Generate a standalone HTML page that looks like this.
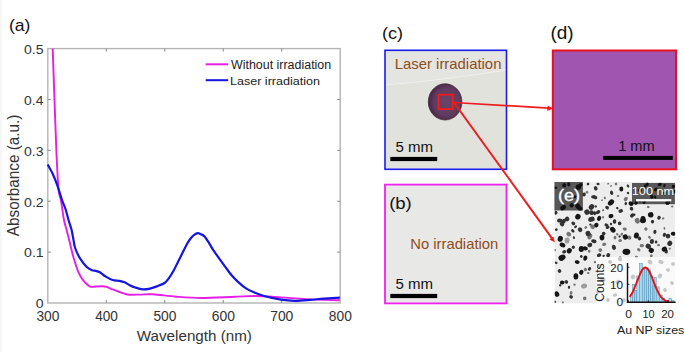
<!DOCTYPE html>
<html><head><meta charset="utf-8"><style>
html,body{margin:0;padding:0;background:#fff;width:685px;height:352px;overflow:hidden}
svg{display:block;font-family:"Liberation Sans",sans-serif}
</style></head><body>
<svg width="685" height="352" viewBox="0 0 685 352" font-family="Liberation Sans, sans-serif">
<defs><clipPath id="temclip"><rect x="554.6" y="182" width="120.6" height="121.6"/></clipPath>
<radialGradient id="spotg" cx="0.55" cy="0.5" r="0.55"><stop offset="0" stop-color="#6a4469"/><stop offset="0.7" stop-color="#603b60"/><stop offset="1" stop-color="#44253f"/></radialGradient>
<filter id="soft" x="0" y="0" width="1" height="1"><feGaussianBlur stdDeviation="0.7"/></filter></defs>
<rect x="0.5" y="0" width="1" height="352" fill="#efefef"/>
<rect x="47.80" y="48.60" width="292.40" height="254.40" fill="none" stroke="#b4b4b4" stroke-width="1.4"/>
<path d="M106.28,303.00v-3M106.28,48.60v3M164.76,303.00v-3M164.76,48.60v3M223.24,303.00v-3M223.24,48.60v3M281.72,303.00v-3M281.72,48.60v3M47.80,252.12h3M340.20,252.12h-3M47.80,201.24h3M340.20,201.24h-3M47.80,150.36h3M340.20,150.36h-3M47.80,99.48h3M340.20,99.48h-3" stroke="#8a8a8a" stroke-width="1"/>
<path d="M52.70,48.50 C53.12,60.42 54.52,101.42 55.20,120.00 C55.88,138.58 56.23,148.33 56.80,160.00 C57.37,171.67 57.92,183.33 58.60,190.00 C59.28,196.67 60.00,195.00 60.90,200.00 C61.80,205.00 63.05,215.00 64.00,220.00 C64.95,225.00 65.60,226.10 66.60,230.00 C67.60,233.90 68.87,238.90 70.00,243.40 C71.13,247.90 71.98,252.17 73.40,257.00 C74.82,261.83 76.80,268.42 78.50,272.40 C80.20,276.38 81.90,278.68 83.60,280.90 C85.30,283.12 87.38,284.70 88.70,285.70 C90.02,286.70 90.35,286.77 91.50,286.90 C92.65,287.03 93.78,286.62 95.60,286.50 C97.42,286.38 100.57,286.13 102.40,286.20 C104.23,286.27 104.90,286.37 106.60,286.90 C108.30,287.43 110.47,288.55 112.60,289.40 C114.73,290.25 117.42,291.28 119.40,292.00 C121.38,292.72 122.78,293.25 124.50,293.70 C126.22,294.15 127.12,294.55 129.70,294.70 C132.28,294.85 136.10,294.67 140.00,294.60 C143.90,294.53 147.07,293.95 153.10,294.30 C159.13,294.65 168.10,296.08 176.20,296.70 C184.30,297.32 191.90,298.00 201.70,298.00 C211.50,298.00 226.02,297.03 235.00,296.70 C243.98,296.37 247.92,295.88 255.60,296.00 C263.28,296.12 272.58,296.88 281.10,297.40 C289.62,297.92 296.90,298.62 306.70,299.10 C316.50,299.58 334.37,300.10 339.90,300.30" fill="none" stroke="#e61ee6" stroke-width="1.9" stroke-linejoin="round"/>
<path d="M47.70,164.50 C48.58,166.17 51.37,170.93 53.00,174.50 C54.63,178.07 56.00,181.65 57.50,185.90 C59.00,190.15 60.67,196.15 62.00,200.00 C63.33,203.85 64.42,205.67 65.50,209.00 C66.58,212.33 67.50,216.58 68.50,220.00 C69.50,223.42 70.67,226.17 71.50,229.50 C72.33,232.83 72.87,236.83 73.50,240.00 C74.13,243.17 74.18,245.38 75.30,248.50 C76.42,251.62 78.25,255.57 80.20,258.70 C82.15,261.83 85.00,265.37 87.00,267.30 C89.00,269.23 90.77,269.70 92.20,270.30 C93.63,270.90 94.33,270.57 95.60,270.90 C96.87,271.23 98.10,271.35 99.80,272.30 C101.50,273.25 103.67,275.32 105.80,276.60 C107.93,277.88 110.33,279.28 112.60,280.00 C114.87,280.72 117.42,280.52 119.40,280.90 C121.38,281.28 122.78,281.58 124.50,282.30 C126.22,283.02 127.92,284.33 129.70,285.20 C131.48,286.07 133.00,286.80 135.20,287.50 C137.40,288.20 140.43,289.22 142.90,289.40 C145.37,289.58 147.55,289.15 150.00,288.60 C152.45,288.05 155.17,287.03 157.60,286.10 C160.03,285.17 162.68,284.37 164.60,283.00 C166.52,281.63 167.58,279.98 169.10,277.90 C170.62,275.82 172.18,273.25 173.70,270.50 C175.22,267.75 176.68,264.43 178.20,261.40 C179.72,258.37 181.27,255.32 182.80,252.30 C184.33,249.28 186.07,245.65 187.40,243.30 C188.73,240.95 189.67,239.62 190.80,238.20 C191.93,236.78 193.03,235.63 194.20,234.80 C195.37,233.97 196.67,233.28 197.80,233.20 C198.93,233.12 199.92,233.78 201.00,234.30 C202.08,234.82 203.05,234.98 204.30,236.30 C205.55,237.62 207.08,240.02 208.50,242.20 C209.92,244.38 211.38,247.20 212.80,249.40 C214.22,251.60 215.65,253.48 217.00,255.40 C218.35,257.32 219.45,258.90 220.90,260.90 C222.35,262.90 223.92,265.00 225.70,267.40 C227.48,269.80 229.55,272.88 231.60,275.30 C233.65,277.72 235.65,279.75 238.00,281.90 C240.35,284.05 243.13,286.50 245.70,288.20 C248.27,289.90 250.18,290.77 253.40,292.10 C256.62,293.43 260.38,294.93 265.00,296.20 C269.62,297.47 276.15,298.93 281.10,299.70 C286.05,300.47 289.88,300.77 294.70,300.80 C299.52,300.83 305.17,300.27 310.00,299.90 C314.83,299.53 318.72,298.97 323.70,298.60 C328.68,298.23 337.20,297.85 339.90,297.70" fill="none" stroke="#1515e0" stroke-width="2.2" stroke-linejoin="round"/>
<text transform="translate(36.48,321.46) scale(0.9539,1)" font-size="14.42" fill="#333">300</text>
<text transform="translate(95.17,321.46) scale(0.9450,1)" font-size="14.42" fill="#333">400</text>
<text transform="translate(153.41,321.46) scale(0.9554,1)" font-size="14.42" fill="#333">500</text>
<text transform="translate(211.75,321.46) scale(0.9614,1)" font-size="14.42" fill="#333">600</text>
<text transform="translate(270.19,321.46) scale(0.9629,1)" font-size="14.42" fill="#333">700</text>
<text transform="translate(328.81,321.46) scale(0.9569,1)" font-size="14.42" fill="#333">800</text>
<text transform="translate(35.74,308.26) scale(1.0341,1)" font-size="13.57" fill="#333">0</text>
<text transform="translate(24.03,257.38) scale(1.0411,1)" font-size="13.57" fill="#333">0.1</text>
<text transform="translate(24.03,206.50) scale(1.0431,1)" font-size="13.57" fill="#333">0.2</text>
<text transform="translate(24.04,155.62) scale(1.0371,1)" font-size="13.57" fill="#333">0.3</text>
<text transform="translate(24.04,104.74) scale(1.0254,1)" font-size="13.57" fill="#333">0.4</text>
<text transform="translate(24.04,53.86) scale(1.0351,1)" font-size="13.57" fill="#333">0.5</text>
<text transform="translate(136.82,340.54) scale(1.0662,1)" font-size="14.26" fill="#333">Wavelength (nm)</text>
<text transform="translate(18.61,236.14) rotate(-90) scale(0.9632,1)" font-size="15.87" fill="#333">Absorbance (a.u.)</text>
<path d="M205.7,64.3H228.2" stroke="#e61ee6" stroke-width="2"/>
<path d="M205.7,80.2H228.2" stroke="#1515e0" stroke-width="2"/>
<text transform="translate(230.94,69.17) scale(0.9952,1)" font-size="12.52" fill="#222">Without irradiation</text>
<text transform="translate(229.96,84.98) scale(1.0746,1)" font-size="11.70" fill="#222">Laser irradiation</text>
<text transform="translate(9.00,30.74) scale(1.0249,1)" font-size="17.16" fill="#111">(a)</text>
<text transform="translate(381.97,38.90) scale(1.0405,1)" font-size="17.37" fill="#111">(c)</text>
<text transform="translate(550.52,39.06) scale(1.0520,1)" font-size="18.02" fill="#111">(d)</text>
<rect x="385" y="50.3" width="121.5" height="119" fill="#e2e2dd"/>
<path d="M385,85 C420,82 470,76 506,70 L506,51 L385,51 Z" fill="#e4e4e0"/>
<path d="M385,85 C420,82 470,76 506,70" fill="none" stroke="#efefeb" stroke-width="1.1"/>
<ellipse cx="445.1" cy="101.9" rx="16.8" ry="18.1" fill="url(#spotg)" stroke="#48283f" stroke-width="0.8"/>
<rect x="385" y="50.3" width="121.5" height="119" fill="none" stroke="#1c1cf0" stroke-width="1.6"/>
<text transform="translate(394.77,68.86) scale(1.0629,1)" font-size="14.01" fill="#8f4d20">Laser irradiation</text>
<text transform="translate(395.50,152.35) scale(1.0307,1)" font-size="14.62" fill="#111">5 mm</text>
<rect x="390.3" y="156.9" width="46.9" height="4.2" fill="#000"/>
<rect x="385" y="184.6" width="121.5" height="118.8" fill="#e8e9e6" stroke="#f020f0" stroke-width="1.8"/>
<text transform="translate(389.14,209.24) scale(1.0780,1)" font-size="17.16" fill="#111">(b)</text>
<text transform="translate(410.18,249.06) scale(1.0790,1)" font-size="13.74" fill="#8f4d20">No irradiation</text>
<text transform="translate(395.50,289.35) scale(1.0307,1)" font-size="14.62" fill="#111">5 mm</text>
<rect x="390.3" y="293.9" width="46.9" height="4.2" fill="#000"/>
<rect x="552.8" y="50.5" width="123.2" height="118.8" fill="#a056b0" stroke="#e81020" stroke-width="2"/>
<text transform="translate(618.21,150.50) scale(1.0021,1)" font-size="14.55" fill="#111">1 mm</text>
<rect x="603.2" y="155.9" width="69.6" height="4" fill="#000"/>
<g clip-path="url(#temclip)" filter="url(#soft)"><rect x="554.6" y="182" width="120.6" height="121.6" fill="#ededed"/><g fill="#9e9e9e"><ellipse rx="2.5" ry="3.1" transform="translate(567.1 240.5)rotate(6)"/><ellipse rx="3.1" ry="2.4" transform="translate(584.1 286.0)rotate(162)"/></g><g fill="#747474"><ellipse rx="1.4" ry="1.3" transform="translate(587.0 192.2)rotate(11)"/><ellipse rx="1.1" ry="0.8" transform="translate(608.2 183.7)rotate(153)"/><ellipse rx="0.8" ry="1.1" transform="translate(611.0 186.0)rotate(38)"/><ellipse rx="1.3" ry="1.1" transform="translate(604.8 197.9)rotate(49)"/><ellipse rx="0.8" ry="1.0" transform="translate(602.0 200.2)rotate(60)"/><ellipse rx="1.8" ry="2.3" transform="translate(625.8 199.0)rotate(44)"/><ellipse rx="1.0" ry="1.2" transform="translate(603.1 210.2)rotate(49)"/><ellipse rx="1.0" ry="1.3" transform="translate(603.1 217.2)rotate(178)"/><ellipse rx="1.1" ry="1.4" transform="translate(648.3 207.0)rotate(105)"/><ellipse rx="1.0" ry="1.2" transform="translate(672.2 206.5)rotate(108)"/><ellipse rx="2.4" ry="2.2" transform="translate(637.0 220.2)rotate(156)"/><ellipse rx="1.4" ry="1.0" transform="translate(663.2 218.4)rotate(147)"/><ellipse rx="1.2" ry="1.6" transform="translate(585.8 227.4)rotate(48)"/><ellipse rx="2.3" ry="2.3" transform="translate(592.6 226.8)rotate(11)"/><ellipse rx="2.4" ry="2.2" transform="translate(568.8 234.2)rotate(24)"/><ellipse rx="3.0" ry="2.2" transform="translate(589.8 236.5)rotate(118)"/><ellipse rx="1.3" ry="1.4" transform="translate(554.6 250.1)rotate(123)"/><ellipse rx="1.5" ry="1.3" transform="translate(589.2 251.2)rotate(69)"/><ellipse rx="1.6" ry="2.1" transform="translate(624.7 229.1)rotate(108)"/><ellipse rx="1.5" ry="1.8" transform="translate(615.0 237.6)rotate(2)"/><ellipse rx="1.1" ry="1.3" transform="translate(617.3 234.2)rotate(122)"/><ellipse rx="1.6" ry="1.2" transform="translate(621.8 234.2)rotate(119)"/><ellipse rx="2.0" ry="2.2" transform="translate(629.2 237.6)rotate(120)"/><ellipse rx="1.5" ry="1.8" transform="translate(620.1 240.5)rotate(78)"/><ellipse rx="2.1" ry="1.6" transform="translate(604.2 244.4)rotate(165)"/><ellipse rx="1.9" ry="1.8" transform="translate(600.3 250.1)rotate(57)"/><ellipse rx="2.3" ry="2.3" transform="translate(637.6 221.2)rotate(50)"/><ellipse rx="1.6" ry="1.7" transform="translate(645.9 229.0)rotate(151)"/><ellipse rx="1.3" ry="0.9" transform="translate(664.4 228.4)rotate(81)"/><ellipse rx="1.6" ry="1.2" transform="translate(649.5 237.3)rotate(43)"/><ellipse rx="2.1" ry="1.6" transform="translate(641.8 245.7)rotate(173)"/><ellipse rx="1.2" ry="1.6" transform="translate(658.5 245.1)rotate(85)"/><ellipse rx="1.8" ry="1.5" transform="translate(638.8 249.8)rotate(32)"/><ellipse rx="1.2" ry="1.0" transform="translate(669.8 248.6)rotate(136)"/><ellipse rx="1.4" ry="1.4" transform="translate(651.3 255.8)rotate(143)"/><ellipse rx="1.6" ry="1.2" transform="translate(636.4 257.0)rotate(16)"/><ellipse rx="1.3" ry="1.4" transform="translate(616.0 184.0)rotate(164)"/><ellipse rx="1.0" ry="1.3" transform="translate(618.0 196.0)rotate(79)"/><ellipse rx="1.7" ry="1.6" transform="translate(585.4 269.6)rotate(130)"/><ellipse rx="1.4" ry="1.0" transform="translate(588.2 273.0)rotate(15)"/><ellipse rx="1.1" ry="1.2" transform="translate(574.5 284.6)rotate(69)"/><ellipse rx="1.9" ry="1.4" transform="translate(571.1 292.8)rotate(94)"/><ellipse rx="1.9" ry="1.8" transform="translate(584.7 298.3)rotate(91)"/><ellipse rx="1.3" ry="0.9" transform="translate(562.9 302.5)rotate(93)"/><ellipse rx="1.2" ry="1.2" transform="translate(595.0 262.1)rotate(144)"/></g><g fill="#303030"><ellipse rx="2.1" ry="2.1" transform="translate(564.2 185.4)rotate(101)"/><ellipse rx="2.1" ry="1.6" transform="translate(568.8 184.3)rotate(84)"/><ellipse rx="2.8" ry="2.7" transform="translate(578.4 187.1)rotate(106)"/><ellipse rx="1.7" ry="2.0" transform="translate(580.7 184.8)rotate(92)"/><ellipse rx="2.2" ry="2.0" transform="translate(571.6 205.3)rotate(143)"/><ellipse rx="2.4" ry="3.1" transform="translate(563.1 207.6)rotate(55)"/><ellipse rx="2.4" ry="3.1" transform="translate(577.9 206.4)rotate(146)"/><ellipse rx="2.5" ry="2.1" transform="translate(580.1 208.7)rotate(8)"/><ellipse rx="1.6" ry="1.2" transform="translate(555.7 187.7)rotate(174)"/><ellipse rx="1.5" ry="1.3" transform="translate(575.0 196.8)rotate(111)"/><ellipse rx="1.7" ry="2.0" transform="translate(584.1 194.5)rotate(3)"/><ellipse rx="2.5" ry="3.0" transform="translate(591.5 207.0)rotate(44)"/><ellipse rx="1.6" ry="2.1" transform="translate(593.2 196.8)rotate(84)"/><ellipse rx="2.7" ry="2.8" transform="translate(587.0 212.1)rotate(152)"/><ellipse rx="2.3" ry="2.3" transform="translate(591.5 212.7)rotate(115)"/><ellipse rx="2.3" ry="2.3" transform="translate(567.1 218.9)rotate(50)"/><ellipse rx="2.7" ry="2.0" transform="translate(559.7 220.6)rotate(179)"/><ellipse rx="2.6" ry="2.0" transform="translate(563.7 221.2)rotate(127)"/><ellipse rx="1.8" ry="1.9" transform="translate(555.7 212.7)rotate(41)"/><ellipse rx="2.2" ry="2.4" transform="translate(590.4 219.5)rotate(13)"/><ellipse rx="2.5" ry="2.1" transform="translate(592.6 218.9)rotate(72)"/><ellipse rx="2.3" ry="1.8" transform="translate(595.7 188.3)rotate(70)"/><ellipse rx="2.2" ry="1.6" transform="translate(611.6 192.8)rotate(72)"/><ellipse rx="1.8" ry="2.3" transform="translate(595.1 197.3)rotate(113)"/><ellipse rx="1.2" ry="1.6" transform="translate(625.8 203.6)rotate(11)"/><ellipse rx="1.2" ry="1.2" transform="translate(595.7 206.4)rotate(81)"/><ellipse rx="1.7" ry="2.0" transform="translate(607.1 207.6)rotate(132)"/><ellipse rx="1.1" ry="1.3" transform="translate(617.3 208.1)rotate(116)"/><ellipse rx="1.8" ry="2.3" transform="translate(620.7 211.0)rotate(76)"/><ellipse rx="2.5" ry="1.8" transform="translate(598.0 212.1)rotate(145)"/><ellipse rx="1.7" ry="1.9" transform="translate(594.6 213.2)rotate(159)"/><ellipse rx="1.9" ry="2.3" transform="translate(632.1 215.5)rotate(46)"/><ellipse rx="2.0" ry="1.7" transform="translate(631.5 208.7)rotate(59)"/><ellipse rx="1.7" ry="1.9" transform="translate(614.5 221.2)rotate(13)"/><ellipse rx="1.7" ry="2.0" transform="translate(659.0 217.8)rotate(28)"/><ellipse rx="1.3" ry="1.5" transform="translate(652.5 221.4)rotate(34)"/><ellipse rx="1.5" ry="1.3" transform="translate(634.0 214.8)rotate(169)"/><ellipse rx="1.7" ry="2.0" transform="translate(667.4 202.9)rotate(171)"/><ellipse rx="1.6" ry="1.2" transform="translate(664.4 185.6)rotate(109)"/><ellipse rx="1.8" ry="1.9" transform="translate(675.0 191.5)rotate(19)"/><ellipse rx="1.2" ry="1.6" transform="translate(645.0 186.0)rotate(173)"/><ellipse rx="1.3" ry="1.5" transform="translate(655.0 197.0)rotate(127)"/><ellipse rx="1.3" ry="1.5" transform="translate(640.0 201.0)rotate(148)"/><ellipse rx="2.4" ry="2.2" transform="translate(562.0 224.0)rotate(53)"/><ellipse rx="1.7" ry="2.0" transform="translate(573.3 223.4)rotate(130)"/><ellipse rx="1.2" ry="1.6" transform="translate(575.6 226.8)rotate(41)"/><ellipse rx="1.4" ry="1.3" transform="translate(556.3 229.7)rotate(153)"/><ellipse rx="2.4" ry="2.2" transform="translate(580.1 229.7)rotate(50)"/><ellipse rx="1.9" ry="1.4" transform="translate(572.8 230.8)rotate(37)"/><ellipse rx="1.0" ry="1.2" transform="translate(590.4 224.5)rotate(66)"/><ellipse rx="2.5" ry="2.7" transform="translate(588.1 233.6)rotate(160)"/><ellipse rx="1.0" ry="1.4" transform="translate(573.9 237.6)rotate(164)"/><ellipse rx="2.0" ry="1.7" transform="translate(593.2 241.0)rotate(173)"/><ellipse rx="1.7" ry="1.6" transform="translate(573.3 247.3)rotate(131)"/><ellipse rx="2.5" ry="2.1" transform="translate(589.8 245.0)rotate(162)"/><ellipse rx="2.0" ry="1.7" transform="translate(564.2 251.8)rotate(165)"/><ellipse rx="1.4" ry="1.4" transform="translate(581.3 256.4)rotate(142)"/><ellipse rx="1.6" ry="2.1" transform="translate(606.5 225.1)rotate(115)"/><ellipse rx="2.0" ry="1.4" transform="translate(607.6 227.4)rotate(158)"/><ellipse rx="1.3" ry="1.1" transform="translate(611.0 224.0)rotate(70)"/><ellipse rx="2.0" ry="1.7" transform="translate(614.5 221.7)rotate(105)"/><ellipse rx="1.8" ry="1.8" transform="translate(619.6 223.4)rotate(151)"/><ellipse rx="1.9" ry="1.8" transform="translate(603.7 233.6)rotate(41)"/><ellipse rx="1.9" ry="1.7" transform="translate(594.6 241.6)rotate(166)"/><ellipse rx="1.1" ry="1.3" transform="translate(619.6 236.5)rotate(31)"/><ellipse rx="2.6" ry="2.0" transform="translate(613.9 247.3)rotate(69)"/><ellipse rx="2.3" ry="1.8" transform="translate(599.1 255.2)rotate(153)"/><ellipse rx="1.3" ry="1.1" transform="translate(603.7 255.8)rotate(171)"/><ellipse rx="1.9" ry="2.2" transform="translate(608.2 255.2)rotate(30)"/><ellipse rx="1.7" ry="1.6" transform="translate(652.5 221.8)rotate(89)"/><ellipse rx="1.6" ry="2.1" transform="translate(654.9 231.9)rotate(6)"/><ellipse rx="1.8" ry="1.9" transform="translate(639.4 238.5)rotate(142)"/><ellipse rx="1.6" ry="2.1" transform="translate(664.4 234.9)rotate(24)"/><ellipse rx="2.3" ry="2.3" transform="translate(668.0 236.1)rotate(4)"/><ellipse rx="2.1" ry="2.6" transform="translate(651.9 241.5)rotate(8)"/><ellipse rx="1.5" ry="1.3" transform="translate(656.1 242.1)rotate(80)"/><ellipse rx="2.7" ry="2.4" transform="translate(669.8 243.3)rotate(118)"/><ellipse rx="2.8" ry="2.4" transform="translate(648.3 246.3)rotate(36)"/><ellipse rx="2.0" ry="1.7" transform="translate(666.2 251.6)rotate(94)"/><ellipse rx="2.1" ry="1.6" transform="translate(647.0 184.5)rotate(130)"/><ellipse rx="1.6" ry="2.1" transform="translate(659.8 184.5)rotate(82)"/><ellipse rx="1.9" ry="1.7" transform="translate(673.7 186.4)rotate(164)"/><ellipse rx="1.8" ry="1.9" transform="translate(640.0 190.3)rotate(102)"/><ellipse rx="2.1" ry="1.6" transform="translate(655.8 189.5)rotate(143)"/><ellipse rx="2.1" ry="1.6" transform="translate(651.8 196.7)rotate(83)"/><ellipse rx="2.0" ry="1.7" transform="translate(664.6 193.5)rotate(37)"/><ellipse rx="2.5" ry="2.1" transform="translate(667.7 202.7)rotate(147)"/><ellipse rx="2.0" ry="1.7" transform="translate(636.0 203.0)rotate(129)"/><ellipse rx="1.7" ry="2.0" transform="translate(644.0 202.0)rotate(162)"/><ellipse rx="1.6" ry="1.2" transform="translate(598.0 184.0)rotate(176)"/><ellipse rx="1.4" ry="1.3" transform="translate(588.0 184.0)rotate(142)"/><ellipse rx="1.6" ry="1.2" transform="translate(628.0 186.0)rotate(63)"/><ellipse rx="1.2" ry="1.2" transform="translate(628.0 193.0)rotate(138)"/><ellipse rx="1.5" ry="1.2" transform="translate(556.1 262.8)rotate(31)"/><ellipse rx="1.8" ry="1.9" transform="translate(559.5 271.0)rotate(142)"/><ellipse rx="1.9" ry="1.5" transform="translate(589.5 268.9)rotate(124)"/><ellipse rx="1.7" ry="1.9" transform="translate(566.3 281.9)rotate(131)"/><ellipse rx="1.3" ry="1.1" transform="translate(560.2 285.3)rotate(94)"/><ellipse rx="1.6" ry="1.2" transform="translate(569.0 287.3)rotate(101)"/><ellipse rx="1.9" ry="1.8" transform="translate(571.1 296.9)rotate(36)"/><ellipse rx="1.4" ry="1.3" transform="translate(554.7 301.7)rotate(5)"/><ellipse rx="1.9" ry="1.8" transform="translate(599.0 266.0)rotate(88)"/><ellipse rx="2.0" ry="1.7" transform="translate(610.0 262.0)rotate(12)"/><ellipse rx="2.4" ry="2.2" transform="translate(620.0 259.0)rotate(74)"/><ellipse rx="2.7" ry="2.0" transform="translate(603.0 280.0)rotate(166)"/><ellipse rx="1.7" ry="2.0" transform="translate(598.0 292.0)rotate(85)"/><ellipse rx="1.6" ry="2.1" transform="translate(615.0 295.0)rotate(78)"/><ellipse rx="2.6" ry="2.1" transform="translate(618.0 282.0)rotate(162)"/><ellipse rx="2.3" ry="2.3" transform="translate(633.0 277.0)rotate(57)"/><ellipse rx="2.1" ry="2.5" transform="translate(650.0 262.0)rotate(111)"/><ellipse rx="2.7" ry="2.0" transform="translate(661.0 262.0)rotate(23)"/><ellipse rx="2.0" ry="1.7" transform="translate(668.0 270.0)rotate(4)"/><ellipse rx="2.1" ry="2.5" transform="translate(660.0 276.0)rotate(41)"/><ellipse rx="2.0" ry="1.7" transform="translate(672.0 283.0)rotate(58)"/><ellipse rx="1.8" ry="1.9" transform="translate(665.0 290.0)rotate(112)"/><ellipse rx="1.6" ry="2.1" transform="translate(655.0 296.0)rotate(132)"/><ellipse rx="1.6" ry="2.1" transform="translate(642.0 292.0)rotate(92)"/><ellipse rx="1.7" ry="2.0" transform="translate(608.0 300.0)rotate(36)"/><ellipse rx="1.9" ry="1.8" transform="translate(624.0 300.0)rotate(79)"/><ellipse rx="1.8" ry="1.9" transform="translate(673.0 264.0)rotate(74)"/></g><g fill="#161616"><ellipse rx="2.8" ry="2.7" transform="translate(577.9 216.7)rotate(119)"/><ellipse rx="2.6" ry="2.0" transform="translate(621.3 189.0)rotate(85)"/><ellipse rx="3.5" ry="2.6" transform="translate(611.0 202.5)rotate(136)"/><ellipse rx="2.6" ry="2.1" transform="translate(631.0 203.6)rotate(32)"/><ellipse rx="2.1" ry="2.5" transform="translate(611.0 216.1)rotate(71)"/><ellipse rx="2.6" ry="2.0" transform="translate(599.1 218.4)rotate(116)"/><ellipse rx="2.7" ry="2.8" transform="translate(650.7 214.8)rotate(82)"/><ellipse rx="3.5" ry="2.6" transform="translate(643.0 219.6)rotate(87)"/><ellipse rx="3.0" ry="2.6" transform="translate(560.3 238.8)rotate(105)"/><ellipse rx="2.2" ry="3.0" transform="translate(562.5 245.0)rotate(115)"/><ellipse rx="2.6" ry="2.9" transform="translate(581.3 249.0)rotate(180)"/><ellipse rx="2.0" ry="2.6" transform="translate(585.3 248.4)rotate(98)"/><ellipse rx="2.8" ry="2.4" transform="translate(569.3 250.7)rotate(127)"/><ellipse rx="3.7" ry="2.8" transform="translate(562.0 257.5)rotate(157)"/><ellipse rx="2.6" ry="2.0" transform="translate(585.3 258.1)rotate(103)"/><ellipse rx="2.4" ry="2.2" transform="translate(596.3 225.1)rotate(110)"/><ellipse rx="2.4" ry="3.1" transform="translate(612.8 229.7)rotate(135)"/><ellipse rx="2.8" ry="2.4" transform="translate(602.0 237.6)rotate(90)"/><ellipse rx="2.6" ry="2.6" transform="translate(625.3 237.0)rotate(161)"/><ellipse rx="3.1" ry="3.9" transform="translate(626.4 251.8)rotate(89)"/><ellipse rx="2.5" ry="3.0" transform="translate(643.0 220.6)rotate(75)"/><ellipse rx="2.6" ry="2.0" transform="translate(673.4 233.7)rotate(7)"/><ellipse rx="3.0" ry="2.5" transform="translate(636.4 235.5)rotate(103)"/><ellipse rx="2.6" ry="2.6" transform="translate(651.3 250.4)rotate(32)"/><ellipse rx="2.4" ry="2.7" transform="translate(664.4 249.2)rotate(62)"/><ellipse rx="2.3" ry="2.3" transform="translate(561.5 258.7)rotate(5)"/><ellipse rx="2.4" ry="1.9" transform="translate(577.2 262.1)rotate(12)"/><ellipse rx="2.1" ry="2.6" transform="translate(581.3 272.3)rotate(27)"/><ellipse rx="3.2" ry="2.4" transform="translate(575.9 276.4)rotate(89)"/><ellipse rx="2.0" ry="2.3" transform="translate(562.2 282.6)rotate(95)"/><ellipse rx="2.4" ry="2.8" transform="translate(556.8 294.1)rotate(153)"/></g></g>
<rect x="554.4" y="182" width="28.5" height="28.5" fill="#000" fill-opacity="0.63"/>
<text transform="translate(557.97,200.82) scale(1.0502,1)" font-size="17.27" fill="#fff" stroke="#fff" stroke-width="0.35">(e)</text>
<rect x="632" y="183" width="42.9" height="21.2" fill="#000" fill-opacity="0.63"/>
<text transform="translate(631.74,195.48) scale(1.0859,1)" font-size="11.73" fill="#fff">100 nm</text>
<rect x="636" y="199.1" width="35.3" height="2.3" fill="#fff"/>
<rect x="596" y="257" width="79" height="46.6" fill="#fff" fill-opacity="0.72"/>
<rect x="630.60" y="294.50" width="2.00" height="7.70" fill="#a6d8ee" stroke="#4f90b8" stroke-width="0.5"/><rect x="632.60" y="284.40" width="2.20" height="17.80" fill="#a6d8ee" stroke="#4f90b8" stroke-width="0.5"/><rect x="634.80" y="290.40" width="2.00" height="11.80" fill="#a6d8ee" stroke="#4f90b8" stroke-width="0.5"/><rect x="636.80" y="276.00" width="2.60" height="26.20" fill="#a6d8ee" stroke="#4f90b8" stroke-width="0.5"/><rect x="639.40" y="263.50" width="3.00" height="38.70" fill="#a6d8ee" stroke="#4f90b8" stroke-width="0.5"/><rect x="642.40" y="268.00" width="2.10" height="34.20" fill="#a6d8ee" stroke="#4f90b8" stroke-width="0.5"/><rect x="644.50" y="267.50" width="2.10" height="34.70" fill="#a6d8ee" stroke="#4f90b8" stroke-width="0.5"/><rect x="646.60" y="268.00" width="2.10" height="34.20" fill="#a6d8ee" stroke="#4f90b8" stroke-width="0.5"/><rect x="648.70" y="270.00" width="2.00" height="32.20" fill="#a6d8ee" stroke="#4f90b8" stroke-width="0.5"/><rect x="650.70" y="276.00" width="1.80" height="26.20" fill="#a6d8ee" stroke="#4f90b8" stroke-width="0.5"/><rect x="652.50" y="285.80" width="1.60" height="16.40" fill="#a6d8ee" stroke="#4f90b8" stroke-width="0.5"/><rect x="654.10" y="277.70" width="2.10" height="24.50" fill="#a6d8ee" stroke="#4f90b8" stroke-width="0.5"/><rect x="656.20" y="286.90" width="3.00" height="15.30" fill="#a6d8ee" stroke="#4f90b8" stroke-width="0.5"/><rect x="659.20" y="295.00" width="3.00" height="7.20" fill="#a6d8ee" stroke="#4f90b8" stroke-width="0.5"/><rect x="662.20" y="298.60" width="2.60" height="3.60" fill="#a6d8ee" stroke="#4f90b8" stroke-width="0.5"/><rect x="664.80" y="300.60" width="4.10" height="1.60" fill="#a6d8ee" stroke="#4f90b8" stroke-width="0.5"/><rect x="668.90" y="298.60" width="2.60" height="3.60" fill="#a6d8ee" stroke="#4f90b8" stroke-width="0.5"/><rect x="671.50" y="300.60" width="2.50" height="1.60" fill="#a6d8ee" stroke="#4f90b8" stroke-width="0.5"/>
<polyline points="629.6,296.9 630.6,295.5 631.6,294.0 632.6,292.1 633.5,290.1 634.5,287.9 635.5,285.5 636.5,283.0 637.5,280.4 638.5,277.9 639.5,275.5 640.4,273.2 641.4,271.3 642.4,269.6 643.4,268.5 644.4,267.7 645.4,267.5 646.3,267.8 647.3,268.6 648.3,269.8 649.3,271.5 650.3,273.5 651.3,275.8 652.3,278.2 653.2,280.7 654.2,283.3 655.2,285.8 656.2,288.2 657.2,290.4 658.2,292.4 659.1,294.2 660.1,295.7 661.1,297.0 662.1,298.2 663.1,299.1 664.1,299.8 665.1,300.4 666.0,300.9 667.0,301.3 668.0,301.5 669.0,301.7" fill="none" stroke="#e81010" stroke-width="1.9" stroke-linejoin="round"/>
<path d="M627.5,263.1V302.2H675.6" fill="none" stroke="#111" stroke-width="1.4"/>
<path d="M628.5,302.2v-2M648.3,302.2v-2M667.9,302.2v-2M627.5,284.3h2M627.5,267.2h2" stroke="#111" stroke-width="0.8"/>
<text transform="translate(610.33,272.48) scale(0.9754,1)" font-size="11.73" fill="#222">20</text>
<text transform="translate(610.02,289.38) scale(0.9998,1)" font-size="11.73" fill="#222">10</text>
<text transform="translate(616.42,306.08) scale(1.0175,1)" font-size="11.73" fill="#222">0</text>
<text transform="translate(625.31,318.19) scale(1.0610,1)" font-size="11.45" fill="#222">0</text>
<text transform="translate(642.39,318.19) scale(0.9457,1)" font-size="11.45" fill="#222">10</text>
<text transform="translate(661.13,318.19) scale(0.9995,1)" font-size="11.45" fill="#222">20</text>
<text transform="translate(604.48,301.81) rotate(-90) scale(1.0246,1)" font-size="11.87" fill="#222">Counts</text>
<text transform="translate(616.97,334.09) scale(1.1125,1)" font-size="11.16" fill="#222">Au NP sizes</text>
<rect x="438.5" y="94.7" width="14.2" height="14.4" fill="none" stroke="#ee1c1c" stroke-width="1.8"/>
<path d="M453.4,102.5 L549,108.1" stroke="#ee1c1c" stroke-width="1.7"/>
<path d="M553,108.4 L547.6,105.6 L547.3,111 Z" fill="#ee1c1c"/>
<path d="M452.5,100.5 L552.2,238.6" stroke="#ee1c1c" stroke-width="2"/>
<path d="M554.8,242.2 L549.3,239.6 L553.5,236.6 Z" fill="#ee1c1c"/>
</svg>
</body></html>
